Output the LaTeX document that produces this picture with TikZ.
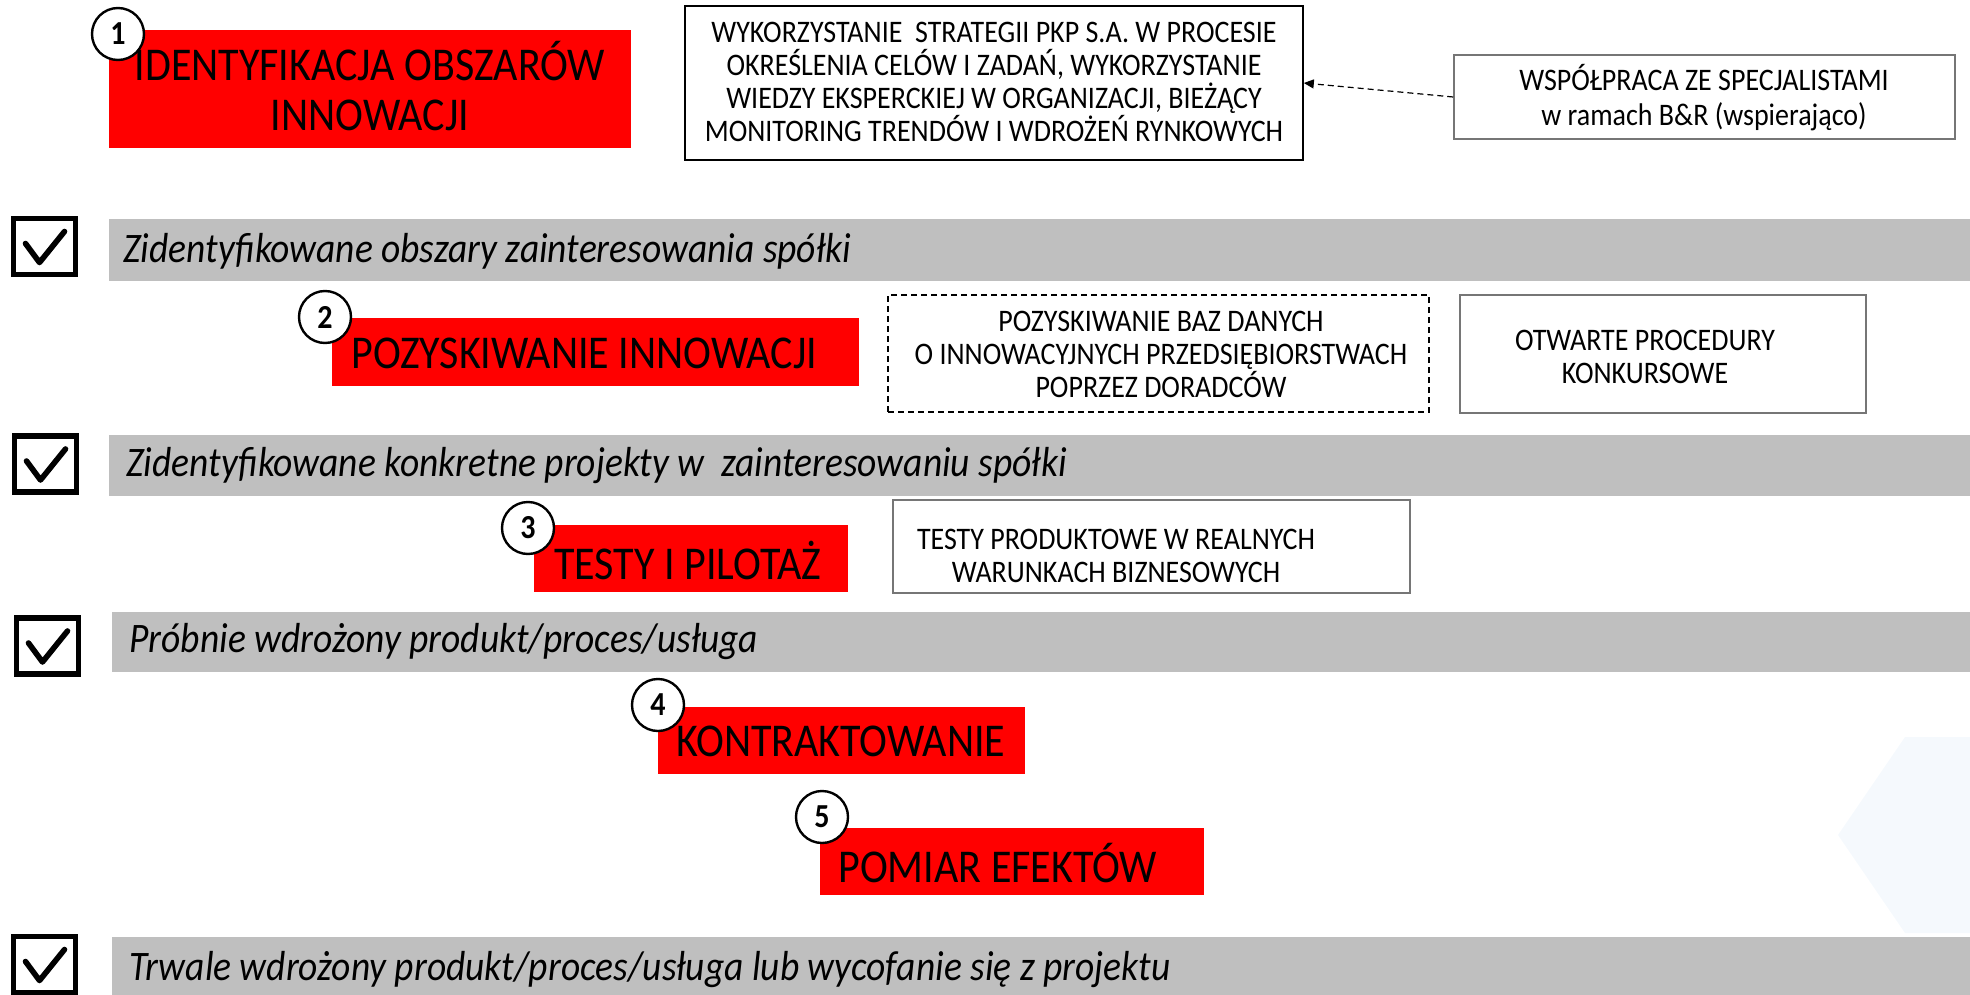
\documentclass[tikz,border=0pt]{standalone}
\usepackage{fontspec}
\usepackage{graphicx}
\setmainfont{Carlito}
\usetikzlibrary{arrows.meta}
\definecolor{bargray}{RGB}{191,191,191}
\definecolor{boxgray}{RGB}{118,118,118}
\definecolor{hexblue}{RGB}{245,249,253}
\newcommand{\vst}[1]{\scalebox{1}[1.12]{#1}}
\newcommand{\ctab}[1]{\vst{\vbox{\lineskiplimit=-\maxdimen\halign{\hfil##\hfil\cr#1\crcr}}}}
\begin{document}
\begin{tikzpicture}[x=0.5pt,y=-0.5pt,
 redbox/.style={fill=red, draw=none, inner sep=0},
 redtext/.style={font=\fontsize{21}{22.3}\selectfont, inner sep=0},
 infobox/.style={draw=black, line width=0.8pt, inner sep=0},
 infotext/.style={font=\fontsize{14}{14.6}\selectfont, inner sep=0, anchor=base},
 graybar/.style={fill=bargray, inner sep=0},
 bartext/.style={font=\fontsize{18.75}{20}\selectfont\itshape, anchor=west, inner sep=0},
 numcirc/.style={circle, draw=black, line width=1.2pt, fill=white, minimum size=26pt, inner sep=0, font=\fontsize{15}{15}\selectfont\bfseries},
 checkbox/.style={draw=black, line width=2.6pt, fill=white, minimum width=31pt, minimum height=28pt, inner sep=0},
 checkmark/.style={line width=2.8pt, line cap=round, line join=round},
]
\useasboundingbox (0,0) rectangle (1970,995);
% faint watermark
\fill[hexblue] (1838,835) -- (1905,737) -- (1970,737) -- (1970,933) -- (1905,933) -- cycle;

% ---- step 1
\node[redbox, minimum width=261pt, minimum height=59pt] (r1) at (370,89) {};
\node[redtext, anchor=base, font=\fontsize{21}{22.5}\selectfont] (t1) at (370,131) {\ctab{IDENTYFIKACJA OBSZARÓW\cr INNOWACJI}};
\node[numcirc] (c1) at (118,34) {\vst{1}};

\node[infobox, minimum width=309pt, minimum height=77pt] (b1) at (994,83) {};
\node[infotext] (bt1) at (994,141) {\ctab{WYKORZYSTANIE\ \ STRATEGII PKP S.A. W PROCESIE\cr OKREŚLENIA CELÓW I ZADAŃ, WYKORZYSTANIE\cr WIEDZY EKSPERCKIEJ W ORGANIZACJI, BIEŻĄCY\cr MONITORING TRENDÓW I WDROŻEŃ RYNKOWYCH}};

\node[infobox, draw=boxgray, minimum width=250.5pt, minimum height=42pt] (b2) at (1704.5,97) {};
\node[infotext, font=\fontsize{14}{15.7}\selectfont] (bt2) at (1704,126) {\ctab{WSPÓŁPRACA ZE SPECJALISTAMI\cr w ramach B\&R (wspierająco)}};
\draw[densely dashed, line width=0.6pt, -{Triangle[length=5pt,width=4.5pt]}] (b2.west) -- (b1.east);

% ---- bar 1
\node[graybar, minimum width=930.5pt, minimum height=31pt] (g1) at (1039.5,250) {};
\node[bartext] (gt1) at (123,251) {\vst{Zidentyfikowane obszary zainteresowania spółki}};
\node[checkbox] (cb1) at (44.5,246.5) {};
\draw[checkmark] (cb1.center) ++(-19,-3) -- ++(14,19) -- ++(25,-31);

% ---- step 2
\node[redbox, minimum width=263.5pt, minimum height=34pt] (r2) at (595.5,352) {};
\node[redtext, anchor=west] (t2) at (351,353) {\vst{POZYSKIWANIE INNOWACJI}};
\node[numcirc] (c2) at (325,317) {\vst{2}};

\node[infobox, densely dashed, line width=0.7pt, minimum width=270.5pt, minimum height=58.5pt] (b3) at (1158.5,353.5) {};
\node[infotext] (bt3) at (1161,397) {\ctab{POZYSKIWANIE BAZ DANYCH\cr O INNOWACYJNYCH PRZEDSIĘBIORSTWACH\cr POPRZEZ DORADCÓW}};

\node[infobox, draw=boxgray, minimum width=203pt, minimum height=59pt] (b4) at (1663,354) {};
\node[infotext] (bt4) at (1645,383) {\ctab{OTWARTE PROCEDURY\cr KONKURSOWE}};

% ---- bar 2
\node[graybar, minimum width=930.5pt, minimum height=30.5pt] (g2) at (1039.5,465.5) {};
\node[bartext] (gt2) at (126,466) {\vst{Zidentyfikowane konkretne projekty w\ \ zainteresowaniu spółki}};
\node[checkbox] (cb2) at (45.5,464) {};
\draw[checkmark] (cb2.center) ++(-19,-3) -- ++(14,19) -- ++(25,-31);

% ---- step 3
\node[redbox, minimum width=157pt, minimum height=33.5pt] (r3) at (691,558.5) {};
\node[redtext, anchor=west] (t3) at (554,560) {\vst{TESTY I PILOTAŻ}};
\node[numcirc] (c3) at (528,528) {\vst{3}};

\node[infobox, draw=boxgray, minimum width=258.5pt, minimum height=46.5pt] (b5) at (1151.5,546.5) {};
\node[infotext] (bt5) at (1116,582) {\ctab{TESTY PRODUKTOWE W REALNYCH\cr WARUNKACH BIZNESOWYCH}};

% ---- bar 3
\node[graybar, minimum width=929pt, minimum height=30pt] (g3) at (1041,642) {};
\node[bartext] (gt3) at (129,642) {\vst{Próbnie wdrożony produkt/proces/usługa}};
\node[checkbox] (cb3) at (47.5,646) {};
\draw[checkmark] (cb3.center) ++(-19,-3) -- ++(14,19) -- ++(25,-31);

% ---- step 4
\node[redbox, minimum width=183.5pt, minimum height=33.5pt] (r4) at (841.5,740.5) {};
\node[redtext, anchor=west] (t4) at (676,741) {\vst{KONTRAKTOWANIE}};
\node[numcirc] (c4) at (658,705) {\vst{4}};

% ---- step 5
\node[redbox, minimum width=192pt, minimum height=33.5pt] (r5) at (1012,861.5) {};
\node[redtext, anchor=west] (t5) at (838,863) {\vst{POMIAR EFEKTÓW}};
\node[numcirc] (c5) at (822,817) {\vst{5}};

% ---- bar 4
\node[graybar, minimum width=929pt, minimum height=29pt] (g4) at (1041,966) {};
\node[bartext] (gt4) at (129,970) {\vst{Trwale wdrożony produkt/proces/usługa lub wycofanie się z projektu}};
\node[checkbox] (cb4) at (44.5,964.5) {};
\draw[checkmark] (cb4.center) ++(-19,-3) -- ++(14,19) -- ++(25,-31);
\end{tikzpicture}
\end{document}
